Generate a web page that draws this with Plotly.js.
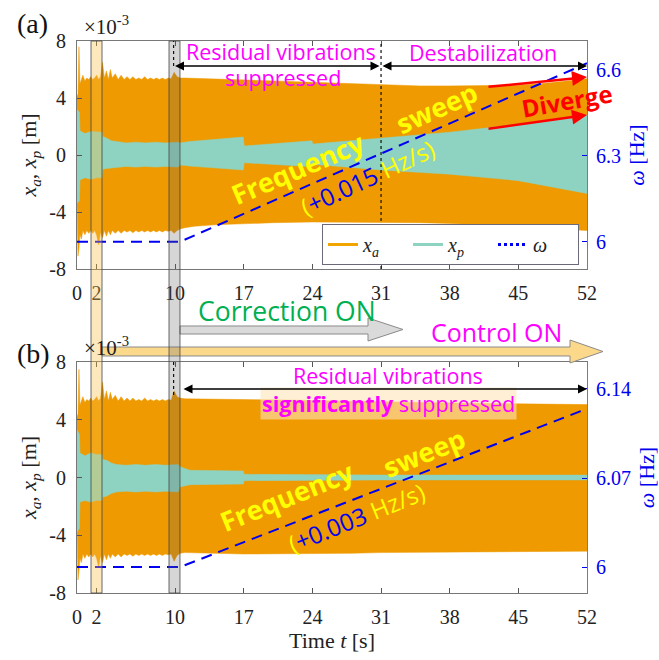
<!DOCTYPE html>
<html><head><meta charset="utf-8">
<script src="https://cdn.plot.ly/plotly-3.0.1.min.js"></script>
<style>html,body{margin:0;padding:0;background:#fff}</style>
</head><body><div id="plot" style="width:659px;height:660px"></div>
<script>
// ---------------- DATA (x values in units of 1e-3 m) ----------------
const xTicks = [0, 2, 10, 17, 24, 31, 38, 45, 52];
const yTicks = [-8, -4, 0, 4, 8];
const yTickText = ['-8', '-4', '0', '4', '8'];
const wTicksTop = [6, 6.3, 6.6];
const wTicksBot = [6, 6.07, 6.14];

// envelope time grid for x_a
const tA = [0,0.1,0.2,0.3,0.45,0.6,0.8,1.0,1.2,1.4,1.6,1.8,2.0,2.2,2.4,2.6,2.8,3.0,3.2,3.4,3.6,3.9,4.2,4.5,4.8,5.1,5.4,5.7,6.0,6.3,6.6,6.9,7.2,7.5,7.8,8.1,8.4,8.7,9.0,9.3,9.6,9.9,10.2,10.5,11,12,14,17,20,24,28,31,35,38,42,45,48,52];
// (a) x_a envelope
const xaUpA = [4.1,4.3,7.6,5.0,5.3,5.6,5.2,5.4,5.3,5.5,5.3,5.4,5.6,5.3,5.5,6.5,5.4,5.9,5.3,6.0,5.4,5.7,5.3,5.6,5.3,5.5,5.3,5.5,5.3,5.4,5.3,5.5,5.3,5.4,5.3,5.4,5.3,5.4,5.3,5.4,5.35,5.8,5.5,5.4,5.4,5.38,5.35,5.3,5.2,5.1,5.0,4.9,4.85,4.85,4.85,4.9,5.05,5.35];
const xaLoA = [-3.6,-7.1,-6.6,-5.6,-5.9,-5.3,-5.6,-5.3,-5.5,-5.3,-5.5,-5.3,-5.6,-6.3,-5.4,-5.8,-5.3,-5.7,-5.3,-5.6,-5.3,-5.5,-5.3,-5.5,-5.3,-5.4,-5.3,-5.45,-5.3,-5.4,-5.3,-5.4,-5.3,-5.4,-5.3,-5.4,-5.3,-5.4,-5.3,-5.35,-5.3,-5.5,-5.3,-5.2,-5.1,-5.0,-4.9,-4.8,-4.75,-4.7,-4.7,-4.7,-4.75,-4.8,-4.9,-5.0,-5.15,-5.3];
// (b) x_a envelope
const xaUpB = [4.2,4.4,7.5,5.0,5.3,5.6,5.2,5.4,5.3,5.5,5.3,5.4,5.6,5.3,5.5,6.6,5.4,6.0,5.3,5.9,5.4,5.7,5.3,5.6,5.3,5.5,5.3,5.5,5.3,5.4,5.3,5.5,5.3,5.4,5.3,5.4,5.3,5.4,5.3,5.4,5.35,6.0,5.6,5.5,5.45,5.45,5.42,5.4,5.38,5.35,5.3,5.25,5.2,5.15,5.12,5.1,5.08,5.05];
const xaLoB = [-3.5,-7.1,-6.5,-5.6,-5.9,-5.3,-5.6,-5.3,-5.5,-5.3,-5.5,-5.3,-5.6,-6.2,-5.4,-5.9,-5.3,-5.7,-5.3,-5.6,-5.3,-5.5,-5.3,-5.5,-5.3,-5.4,-5.3,-5.45,-5.3,-5.4,-5.3,-5.4,-5.3,-5.4,-5.3,-5.4,-5.3,-5.4,-5.3,-5.35,-5.3,-5.8,-5.4,-5.25,-5.2,-5.2,-5.25,-5.3,-5.3,-5.3,-5.25,-5.2,-5.18,-5.15,-5.15,-5.15,-5.12,-5.1];

// envelope time grid for x_p
const tP = [0,0.25,0.3,0.8,1.4,2.0,2.55,2.6,3.0,3.5,4.0,5,6,7,8,9,10.3,10.5,11.5,16.95,17.05,23.95,24.05,31,38,45,52];
const xpUpA = [3.2,3.0,1.7,1.5,1.65,1.6,1.6,1.3,1.2,1.0,0.95,0.85,0.9,0.85,0.9,0.85,0.9,0.85,0.95,1.26,0.63,1.0,0.77,1.19,1.6,2.15,2.8];
const xpLoA = [-3.4,-3.2,-1.75,-1.6,-1.7,-1.6,-1.6,-1.0,-0.95,-0.9,-0.85,-0.8,-0.85,-0.8,-0.85,-0.8,-0.85,-0.7,-0.78,-1.05,-0.54,-0.82,-0.65,-1.05,-1.35,-1.8,-2.7];
const xpUpB = [3.3,3.0,1.7,1.5,1.7,1.6,1.6,1.25,1.2,1.0,0.9,0.85,0.9,0.85,0.9,0.85,0.9,0.75,0.5,0.45,0.22,0.2,0.15,0.17,0.17,0.18,0.17];
const xpLoB = [-3.8,-3.5,-1.7,-1.6,-1.7,-1.6,-1.6,-1.35,-1.3,-1.1,-1.0,-0.95,-1.0,-0.95,-1.0,-0.95,-1.0,-0.65,-0.5,-0.45,-0.22,-0.2,-0.15,-0.17,-0.17,-0.18,-0.17];

// excitation frequency omega [Hz]
const tW = [0, 10.5, 52];
const wA = [6, 6, 6.6225];
const wB = [6, 6, 6.1245];

// ---------------- STYLE ----------------
const ORANGE = '#EE9A00', TEAL = '#8ED3C1', BLUE = '#0000F0';
const SERIF = 'Liberation Serif, DejaVu Serif, serif';
const SANS = 'Open Sans, Noto Sans, sans-serif';
const L = 77, R = 587, T = 41, B = 593;
const PX = x => (x - L) / (R - L);
const PY = y => (B - y) / (B - T);

function env(t, up, lo, color, xa, ya) {
  return [
    {x: t, y: lo, xaxis: xa, yaxis: ya, mode: 'lines', line: {color: color, width: 0.5}, showlegend: false, hoverinfo: 'skip'},
    {x: t, y: up, xaxis: xa, yaxis: ya, mode: 'lines', line: {color: color, width: 0.5}, fill: 'tonexty', fillcolor: color, showlegend: false, hoverinfo: 'skip'}
  ];
}
const traces = [].concat(
  env(tA, xaUpA, xaLoA, ORANGE, 'x', 'y'),
  env(tP, xpUpA, xpLoA, TEAL, 'x', 'y'),
  [{x: tW, y: wA, xaxis: 'x', yaxis: 'y2', mode: 'lines', line: {color: BLUE, width: 2, dash: '11px,7px'}, showlegend: false}],
  env(tA, xaUpB, xaLoB, ORANGE, 'x2', 'y3'),
  env(tP, xpUpB, xpLoB, TEAL, 'x2', 'y3'),
  [{x: tW, y: wB, xaxis: 'x2', yaxis: 'y4', mode: 'lines', line: {color: BLUE, width: 2, dash: '11px,7px'}, showlegend: false}],
  [
    {x: [null], y: [null], xaxis: 'x', yaxis: 'y', mode: 'lines', name: '<i>x<sub>a</sub></i>', line: {color: '#F0A500', width: 3}},
    {x: [null], y: [null], xaxis: 'x', yaxis: 'y', mode: 'lines', name: '<i>x<sub>p</sub></i>', line: {color: TEAL, width: 3}},
    {x: [null], y: [null], xaxis: 'x', yaxis: 'y', mode: 'lines', name: '<i>ω</i>', line: {color: BLUE, width: 3, dash: 'dot'}}
  ]
);

const tickFont = {family: SERIF, size: 20, color: '#222'};
const xAxisBase = {
  range: [0, 52], tickvals: xTicks, ticks: 'inside', ticklen: 5, tickcolor: '#555',
  showline: true, linecolor: '#777', linewidth: 1, mirror: 'ticks', showgrid: false, zeroline: false,
  tickfont: tickFont, ticklabelstandoff: 6
};
const yAxisBase = {
  range: [-8, 8], tickvals: yTicks, ticktext: yTickText, ticks: 'inside', ticklen: 5, tickcolor: '#555',
  showline: true, linecolor: '#777', showgrid: false, zeroline: false, tickfont: tickFont, ticklabelstandoff: 6,
  title: {text: '<i>x<sub>a</sub></i>, <i>x<sub>p</sub></i> [m]', font: {family: SERIF, size: 22, color: '#222'}, standoff: 6}
};
const wAxisBase = {
  side: 'right', ticks: 'inside', ticklen: 5, tickcolor: BLUE, showline: true, linecolor: '#6b6bff',
  showgrid: false, zeroline: false, tickfont: {family: SERIF, size: 20, color: BLUE}, ticklabelstandoff: 4,
  title: {text: '<i>ω</i> [Hz]', font: {family: SERIF, size: 22, color: BLUE}, standoff: 8}
};

const domTop = [PY(269), 1], domBot = [0, PY(362)];

const layout = {
  width: 659, height: 660, margin: {l: L, r: 659 - R, t: T, b: 660 - B},
  paper_bgcolor: '#fff', plot_bgcolor: '#fff',
  xaxis: Object.assign({}, xAxisBase, {domain: [0, 1], anchor: 'y'}),
  yaxis: Object.assign({}, yAxisBase, {domain: domTop, anchor: 'x'}),
  yaxis2: Object.assign({}, wAxisBase, {overlaying: 'y', anchor: 'x', range: [5.905, 6.70], tickvals: wTicksTop}),
  xaxis2: Object.assign({}, xAxisBase, {domain: [0, 1], anchor: 'y3',
    title: {text: 'Time <i>t</i> [s]', font: {family: SERIF, size: 22, color: '#222'}, standoff: 4}}),
  yaxis3: Object.assign({}, yAxisBase, {domain: domBot, anchor: 'x2'}),
  yaxis4: Object.assign({}, wAxisBase, {overlaying: 'y3', anchor: 'x2', range: [5.9796, 6.1612], tickvals: wTicksBot}),
  showlegend: true,
  legend: {orientation: 'h', x: PX(322), y: PY(224), xanchor: 'left', yanchor: 'top', traceorder: 'normal',
    bgcolor: '#fff', bordercolor: '#6a6a7a', borderwidth: 1, font: {family: SERIF, size: 20, color: '#222'},
    entrywidth: 40},
  shapes: [],
  annotations: []
};

// arrows between panels
function poly(pts) { return pts.map((p, i) => (i ? 'L' : 'M') + PX(p[0]).toFixed(5) + ',' + PY(p[1]).toFixed(5)).join(' ') + ' Z'; }
layout.shapes.push({type: 'path', xref: 'paper', yref: 'paper', layer: 'above',
  path: poly([[102,347],[570,347],[570,340],[603,351.5],[570,363],[570,356],[102,356]]),
  fillcolor: '#FCD98A', line: {color: '#8a8a8a', width: 1}});
layout.shapes.push({type: 'path', xref: 'paper', yref: 'paper', layer: 'above',
  path: poly([[180,326],[368,326],[368,318],[403,329.5],[368,341],[368,334],[180,334]]),
  fillcolor: '#DADADA', line: {color: '#8a8a8a', width: 1}});
// bands (control / correction switching)
layout.shapes.push({type: 'rect', xref: 'x', yref: 'paper', x0: 1.43, x1: 2.55, y0: 0, y1: 1, layer: 'above',
  fillcolor: 'rgba(250,190,70,0.35)', line: {color: '#444', width: 0.8}});
layout.shapes.push({type: 'rect', xref: 'x', yref: 'paper', x0: 9.38, x1: 10.5, y0: 0, y1: 1, layer: 'above',
  fillcolor: 'rgba(90,90,90,0.25)', line: {color: '#444', width: 0.8}});
// dotted markers
const dot = {color: '#111', width: 1.2, dash: 'dot'};
layout.shapes.push({type: 'line', xref: 'x', yref: 'y domain', x0: 31, x1: 31, y0: 0, y1: 1, line: dot, layer: 'above'});
layout.shapes.push({type: 'line', xref: 'x', yref: 'y domain', x0: 9.85, x1: 9.85, y0: (269-66)/228, y1: 1, line: dot, layer: 'above'});
layout.shapes.push({type: 'line', xref: 'x2', yref: 'y3 domain', x0: 9.85, x1: 9.85, y0: (593-395)/231, y1: 1, line: dot, layer: 'above'});

function txt(x, y, text, font, extra) {
  layout.annotations.push(Object.assign({xref: 'paper', yref: 'paper', x: PX(x), y: PY(y), text: text,
    showarrow: false, font: font, xanchor: 'center', yanchor: 'middle'}, extra || {}));
}
function arrow(x1, y1, x2, y2, color, width, both) {
  layout.annotations.push({xref: 'paper', yref: 'paper', x: PX(x2), y: PY(y2), ax: x1 - x2, ay: y1 - y2,
    axref: 'pixel', ayref: 'pixel', text: '', showarrow: true, arrowhead: 2, arrowsize: 1.2, arrowwidth: width,
    arrowcolor: color, arrowside: both ? 'end+start' : 'end', standoff: 0, startstandoff: 0});
}
const MAG = '#FF00FF';
txt(32, 24, '(a)', {family: SERIF, size: 28, color: '#111'});
txt(33, 353, '(b)', {family: SERIF, size: 28, color: '#111'});
txt(106, 26, '×10<sup>-3</sup>', {family: SERIF, size: 21, color: '#222'});
txt(106, 346, '×10<sup>-3</sup>', {family: SERIF, size: 21, color: '#222'});
txt(281, 52, 'Residual vibrations', {family: SANS, size: 21.5, color: MAG});
txt(283, 78, 'suppressed', {family: SANS, size: 21.5, color: MAG});
txt(483, 53, 'Destabilization', {family: SANS, size: 21.5, color: MAG});
arrow(381, 66, 175, 66, '#000', 1.5, true);
arrow(381, 66, 587, 66, '#000', 1.5, true);
txt(297, 168, '<b>Frequency</b>', {family: SANS, size: 27, color: '#FFFF00'}, {textangle: -23});
txt(437, 108, '<b>sweep</b>', {family: SANS, size: 27, color: '#FFFF00'}, {textangle: -24});
txt(367, 177, '<span style="color:#FFFF00">(</span><span style="color:#0000F0">+0.015</span><span style="color:#FFFF00"> Hz/s)</span>', {family: SANS, size: 24, color: '#FFFF00'}, {textangle: -25});
txt(567, 100, '<b>Diverge</b>', {family: SANS, size: 24, color: '#FF0000'}, {textangle: -10});
arrow(487, 87, 587, 77, '#FF0000', 2.5, false);
arrow(487, 129, 587, 115, '#FF0000', 2.5, false);
txt(287, 311, 'Correction ON', {family: SANS, size: 26.5, color: '#00B050'});
txt(496, 332, 'Control ON', {family: SANS, size: 25, color: MAG});
txt(388, 375, 'Residual vibrations', {family: SANS, size: 21.5, color: MAG});
txt(388, 403, '<b>significantly</b> suppressed', {family: SANS, size: 21.5, color: MAG}, {bgcolor: 'rgba(255,228,185,0.6)', borderpad: 1});
arrow(182, 389, 587, 389, '#000', 1.5, true);
txt(286, 496, '<b>Frequency</b>', {family: SANS, size: 27, color: '#FFFF00'}, {textangle: -22});
txt(424, 452, '<b>sweep</b>', {family: SANS, size: 27, color: '#FFFF00'}, {textangle: -22});
txt(356, 517, '<span style="color:#FFFF00">(</span><span style="color:#0000F0">+0.003</span><span style="color:#FFFF00"> Hz/s)</span>', {family: SANS, size: 24, color: '#FFFF00'}, {textangle: -22});

Plotly.newPlot('plot', traces, layout, {staticPlot: true});
</script></body></html>
